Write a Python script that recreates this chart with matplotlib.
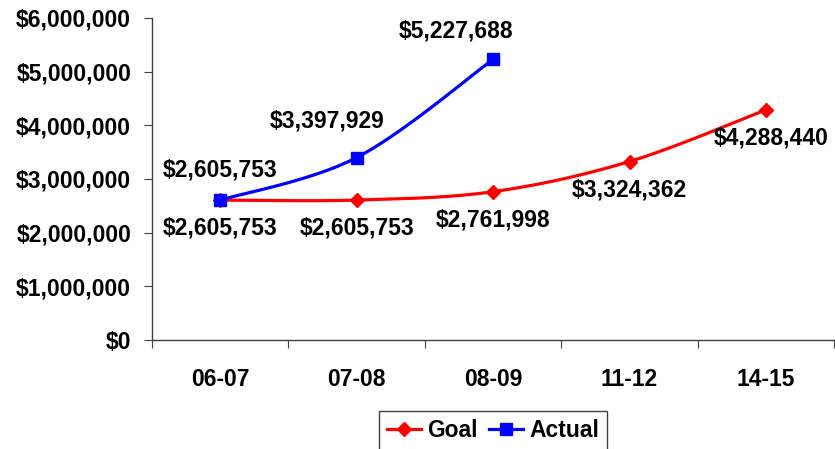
import numpy as np
import matplotlib.pyplot as plt

categories = ['06-07', '07-08', '08-09', '11-12', '14-15']
goal = [2605753, 2605753, 2761998, 3324362, 4288440]
actual = [2605753, 3397929, 5227688]
y_ticks = [0, 1000000, 2000000, 3000000, 4000000, 5000000, 6000000]

plt.rcParams['font.family'] = ['Liberation Sans', 'DejaVu Sans']
plt.rcParams['font.weight'] = 'bold'


def smooth(xs, ys, n=40):
    # Excel-style smoothed line: cubic bezier with catmull-rom control points
    xs = np.asarray(xs, float)
    ys = np.asarray(ys, float)
    px = np.concatenate([[xs[0]], xs, [xs[-1]]])
    py = np.concatenate([[ys[0]], ys, [ys[-1]]])
    out_x, out_y = [], []
    t = np.linspace(0, 1, n)
    for i in range(1, len(px) - 2):
        p0 = np.array([px[i], py[i]])
        p3 = np.array([px[i + 1], py[i + 1]])
        c1 = p0 + (np.array([px[i + 1], py[i + 1]]) - np.array([px[i - 1], py[i - 1]])) / 6
        c2 = p3 - (np.array([px[i + 2], py[i + 2]]) - np.array([px[i], py[i]])) / 6
        b = ((1 - t) ** 3)[:, None] * p0 + (3 * (1 - t) ** 2 * t)[:, None] * c1 \
            + (3 * (1 - t) * t ** 2)[:, None] * c2 + (t ** 3)[:, None] * p3
        out_x.extend(b[:, 0])
        out_y.extend(b[:, 1])
    return out_x, out_y


fig = plt.figure(figsize=(8.35, 4.49), dpi=100)
ax = fig.add_axes([0.182, 0.243, 0.817, 0.717])

xg = np.arange(len(goal))
xa = np.arange(len(actual))

sx, sy = smooth(xg, goal)
ax.plot(sx, sy, color='#FF0000', lw=2.3, zorder=3)
ax.plot(xg, goal, ls='none', marker='D', ms=7, color='#FF0000', zorder=4)
sx, sy = smooth(xa, actual)
ax.plot(sx, sy, color='#0000FF', lw=2.3, zorder=3)
ax.plot(xa, actual, ls='none', marker='s', ms=8.5, color='#0000FF', zorder=5)

# legend proxies
ax.plot([], [], color='#FF0000', lw=2.3, marker='D', ms=7, label='Goal')
ax.plot([], [], color='#0000FF', lw=2.3, marker='s', ms=8, label='Actual')

fs = 16.5
for x, v in zip(xg, goal):
    dx = 5 if x == 4 else 0
    ax.annotate('${:,}'.format(v), (x, v), xytext=(dx, -28), textcoords='offset pixels',
                ha='center', va='center', fontsize=fs, fontweight='bold')
act_off = [(0, 30), (-30, 37), (-37, 28)]
for x, v, off in zip(xa, actual, act_off):
    ax.annotate('${:,}'.format(v), (x, v), xytext=off, textcoords='offset pixels',
                ha='center', va='center', fontsize=fs, fontweight='bold')

ax.set_xlim(-0.5, len(categories) - 0.5)
ax.set_ylim(0, 6000000)
ax.set_yticks(y_ticks)
ax.set_yticklabels(['${:,}'.format(v) for v in y_ticks], fontsize=fs, fontweight='bold')
ax.set_xticks(np.arange(-0.5, len(categories)), labels=[''] * (len(categories) + 1))
ax.set_xticks(np.arange(len(categories)), labels=categories, minor=True)
ax.tick_params(axis='x', which='major', length=6, direction='out', color='#404040')
ax.tick_params(axis='x', which='minor', length=0, pad=20, labelsize=fs)
ax.tick_params(axis='y', length=6, direction='out', color='#404040', pad=9)
for lab in ax.get_xticklabels(minor=True):
    lab.set_fontweight('bold')

for s in ['top', 'right']:
    ax.spines[s].set_visible(False)
for s in ['left', 'bottom']:
    ax.spines[s].set_color('#404040')
    ax.spines[s].set_linewidth(1.0)

leg = ax.legend(loc='upper center', bbox_to_anchor=(0.5, -0.222), ncol=2, fontsize=fs,
                frameon=True, fancybox=False, edgecolor='#404040', framealpha=1,
                handlelength=1.5, handletextpad=0.26, columnspacing=0.48,
                borderpad=0.35, borderaxespad=0)
leg.get_frame().set_linewidth(1.0)
for t in leg.get_texts():
    t.set_fontweight('bold')

fig.savefig('out.png', dpi=100)
